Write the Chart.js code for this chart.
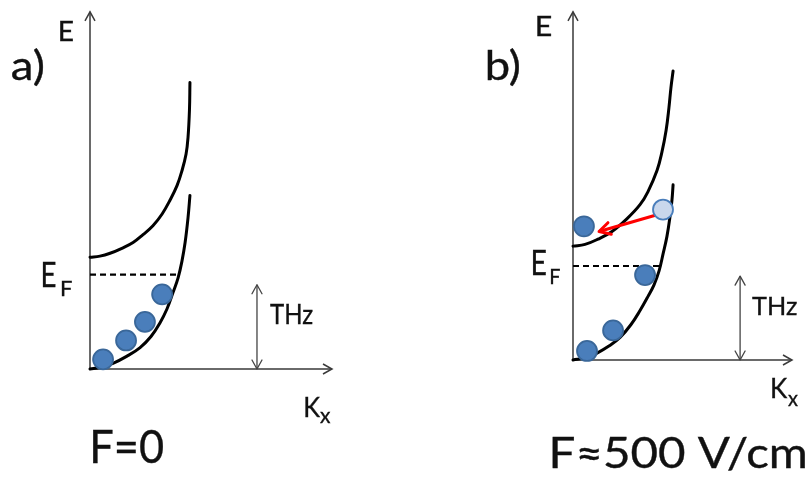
<!DOCTYPE html>
<html>
<head>
<meta charset="utf-8">
<script src="https://cdn.jsdelivr.net/npm/chart.js@4.4.1/dist/chart.umd.min.js"></script>
<style>
  html, body { margin: 0; padding: 0; background: #fff; }
  #wrap { position: relative; width: 808px; height: 479px; overflow: hidden; }
  canvas { position: absolute; top: 0; }
  #chartA { left: 0; }
  #chartB { left: 404px; }
</style>
</head>
<body>
<div id="wrap">
  <canvas id="chartA" width="404" height="479"></canvas>
  <canvas id="chartB" width="404" height="479"></canvas>
</div>
<script>
// axes run 0..10 in both k and E (arbitrary units)

// a) F = 0
const kUpperA = [0, 0.41, 0.83, 1.32, 1.78, 2.19, 2.60, 2.98, 3.31, 3.60, 3.80, 3.97, 4.05, 4.11, 4.13];
const eUpperA = [3.13, 3.16, 3.24, 3.38, 3.54, 3.76, 4.01, 4.34, 4.73, 5.14, 5.55, 6.02, 6.48, 7.25, 8.02];
const kLowerA = [0, 0.41, 0.95, 1.53, 2.07, 2.52, 2.89, 3.18, 3.43, 3.64, 3.80, 3.93, 4.05, 4.13];
const eLowerA = [0, 0.05, 0.16, 0.36, 0.60, 0.91, 1.29, 1.68, 2.14, 2.55, 3.02, 3.54, 4.23, 4.86];
const fermiA = 2.64;
const fermiEndA = 3.72;
const dotKA = [0.54, 1.49, 2.27, 2.98];
const dotEA = [0.27, 0.80, 1.32, 2.09];
const thzKA = 6.9;
const thzEA = [0, 2.36];

// b) F ~ 500 V/cm
const kUpperB = [0, 0.55, 1.14, 1.78, 2.47, 3.06, 3.42, 3.84, 4.06, 4.25, 4.38, 4.47, 4.57];
const eUpperB = [3.27, 3.32, 3.47, 3.69, 4.06, 4.46, 4.83, 5.45, 5.97, 6.59, 7.24, 7.81, 8.30];
const kLowerB = [0, 0.55, 1.10, 1.64, 2.15, 2.65, 3.06, 3.42, 3.70, 3.93, 4.11, 4.29, 4.43, 4.52, 4.57];
const eLowerB = [0, 0.06, 0.20, 0.40, 0.65, 1.02, 1.42, 1.82, 2.16, 2.56, 3.04, 3.55, 4.12, 4.60, 5.03];
const fermiB = 2.70;
const fermiEndB = 4.00;
const dotKB = [0.50, 4.11, 3.29, 1.83, 0.64];
const dotEB = [3.84, 4.32, 2.44, 0.85, 0.26];
const hotDot = 1; // index of the electron being scattered (drawn pale)
const jumpK = [3.88, 1.19];
const jumpE = [4.18, 3.69];
const thzKB = 7.63;
const thzEB = [0, 2.41];

const pts = (xs, ys) => xs.map((x, i) => ({ x: x, y: ys[i] }));

const DOT = '#4a7ebb', DOT_EDGE = '#3a6799', PALE = '#c9d7ec';
const AXIS = '#3a3a3a';

function arrowHead(ctx, x0, y0, x1, y1, len, half) {
  const a = Math.atan2(y1 - y0, x1 - x0);
  ctx.beginPath();
  ctx.moveTo(x1 - len * Math.cos(a) + half * Math.sin(a), y1 - len * Math.sin(a) - half * Math.cos(a));
  ctx.lineTo(x1, y1);
  ctx.lineTo(x1 - len * Math.cos(a) - half * Math.sin(a), y1 - len * Math.sin(a) + half * Math.cos(a));
  ctx.stroke();
}

// axes with arrow tips
const axesPlugin = {
  id: 'axesArrows',
  beforeDatasetsDraw(chart) {
    const ctx = chart.ctx, x = chart.scales.x, y = chart.scales.y;
    const ox = x.getPixelForValue(0), oy = y.getPixelForValue(0);
    const xe = x.getPixelForValue(10), ye = y.getPixelForValue(10);
    ctx.save();
    ctx.strokeStyle = AXIS;
    ctx.lineWidth = 1.5;
    ctx.beginPath();
    ctx.moveTo(ox, oy); ctx.lineTo(xe, oy);
    ctx.moveTo(ox, oy); ctx.lineTo(ox, ye);
    ctx.stroke();
    arrowHead(ctx, ox, oy, xe, oy, 9, 5);
    arrowHead(ctx, ox, oy, ox, ye, 9, 5);
    ctx.restore();
  }
};

// heads on datasets flagged with `heads`
const headsPlugin = {
  id: 'lineHeads',
  afterDatasetsDraw(chart) {
    const ctx = chart.ctx;
    chart.data.datasets.forEach((ds, i) => {
      if (!ds.heads) return;
      const p = chart.getDatasetMeta(i).data;
      const a = p[0], b = p[p.length - 1];
      ctx.save();
      ctx.strokeStyle = ds.borderColor;
      ctx.lineWidth = ds.borderWidth;
      ctx.lineCap = 'round';
      ctx.lineJoin = 'round';
      if (ds.heads.includes('end')) arrowHead(ctx, a.x, a.y, b.x, b.y, ds.headLen, ds.headHalf);
      if (ds.heads.includes('start')) arrowHead(ctx, b.x, b.y, a.x, a.y, ds.headLen, ds.headHalf);
      ctx.restore();
    });
  }
};

// labels: x = ink left, base = baseline, w = ink width (Calibri-like narrow text)
const labelsPlugin = {
  id: 'labels',
  afterDraw(chart, args, opts) {
    const ctx = chart.ctx;
    (opts.items || []).forEach(t => {
      ctx.save();
      ctx.font = t.size + 'px Lato, "Open Sans", sans-serif';
      ctx.fillStyle = '#111';
      ctx.strokeStyle = '#111';
      ctx.lineWidth = 0.35;
      ctx.textBaseline = 'alphabetic';
      const m = ctx.measureText(t.text);
      const ink = m.actualBoundingBoxLeft + m.actualBoundingBoxRight;
      ctx.translate(t.x, t.base);
      ctx.scale(t.w / ink, 1);
      ctx.fillText(t.text, m.actualBoundingBoxLeft, 0);
      ctx.strokeText(t.text, m.actualBoundingBoxLeft, 0);
      ctx.restore();
    });
  }
};

function datasets(kU, eU, kL, eL, ef, efEnd, dk, de, thzK, thzE, pale) {
  const curve = { showLine: true, pointRadius: 0, borderColor: '#000', borderWidth: 3,
    tension: 0.4, borderCapStyle: 'round', order: 2 };
  return [
    {
      data: pts(dk, de), showLine: false, order: 0,
      pointRadius: 10, pointBorderWidth: 1.8,
      pointBackgroundColor: dk.map((_, i) => i === pale ? PALE : DOT),
      pointBorderColor: dk.map((_, i) => i === pale ? DOT : DOT_EDGE)
    },
    Object.assign({ data: pts(kU, eU) }, curve),
    Object.assign({ data: pts(kL, eL) }, curve),
    { data: [{ x: 0, y: ef }, { x: efEnd, y: ef }], showLine: true, pointRadius: 0,
      borderColor: '#000', borderWidth: 2.2, borderDash: [6, 4], order: 3 },
    { data: [{ x: thzK, y: thzE[0] }, { x: thzK, y: thzE[1] }], showLine: true, pointRadius: 0,
      borderColor: '#444', borderWidth: 1.3, order: 4, heads: ['start', 'end'], headLen: 9, headHalf: 5 }
  ];
}

function makeChart(id, sets, pad, labels) {
  return new Chart(document.getElementById(id), {
    type: 'scatter',
    data: { datasets: sets },
    options: {
      responsive: false,
      animation: false,
      events: [],
      layout: { padding: pad },
      scales: {
        x: { type: 'linear', min: 0, max: 10, display: false },
        y: { type: 'linear', min: 0, max: 10, display: false }
      },
      plugins: { legend: { display: false }, tooltip: { enabled: false }, labels: { items: labels } }
    },
    plugins: [axesPlugin, headsPlugin, labelsPlugin]
  });
}

const setsA = datasets(kUpperA, eUpperA, kLowerA, eLowerA, fermiA, fermiEndA, dotKA, dotEA, thzKA, thzEA, -1);
const setsB = datasets(kUpperB, eUpperB, kLowerB, eLowerB, fermiB, fermiEndB, dotKB, dotEB, thzKB, thzEB, hotDot);
setsB.push({
  data: pts(jumpK, jumpE), showLine: true, pointRadius: 0, borderColor: '#ff0000', borderWidth: 3,
  order: 1, heads: ['end'], headLen: 11, headHalf: 6
});
[...setsA, ...setsB].forEach(d => { d.clip = false; });

document.fonts.load('20px Lato').finally(() => {
  makeChart('chartA', setsA, { left: 90, right: 72, top: 5, bottom: 110 }, [
    { text: 'a)', size: 40, x: 12, base: 80, w: 31 },
    { text: 'E', size: 26, x: 60, base: 41, w: 13 },
    { text: 'E', size: 34, x: 43, base: 287, w: 13 },
    { text: 'F', size: 22, x: 62, base: 296, w: 10 },
    { text: 'THz', size: 27, x: 270, base: 324, w: 43 },
    { text: 'K', size: 27, x: 305, base: 417, w: 15 },
    { text: 'x', size: 21, x: 320, base: 423, w: 11 },
    { text: 'F=0', size: 47, x: 93, base: 463, w: 70 }
  ]);
  makeChart('chartB', setsB, { left: 169, right: 16, top: 8, bottom: 119 }, [
    { text: 'b)', size: 40, x: 83, base: 80, w: 32 },
    { text: 'E', size: 26, x: 133, base: 36, w: 14 },
    { text: 'E', size: 35, x: 129, base: 275, w: 13 },
    { text: 'F', size: 22, x: 147, base: 284, w: 9 },
    { text: 'THz', size: 25, x: 348, base: 315, w: 45 },
    { text: 'K', size: 26, x: 368, base: 398, w: 16 },
    { text: 'x', size: 22, x: 384, base: 406, w: 10 },
    { text: 'F≈500 V/cm', size: 42, x: 148, base: 468, w: 253 }
  ]);
});
</script>
</body>
</html>
